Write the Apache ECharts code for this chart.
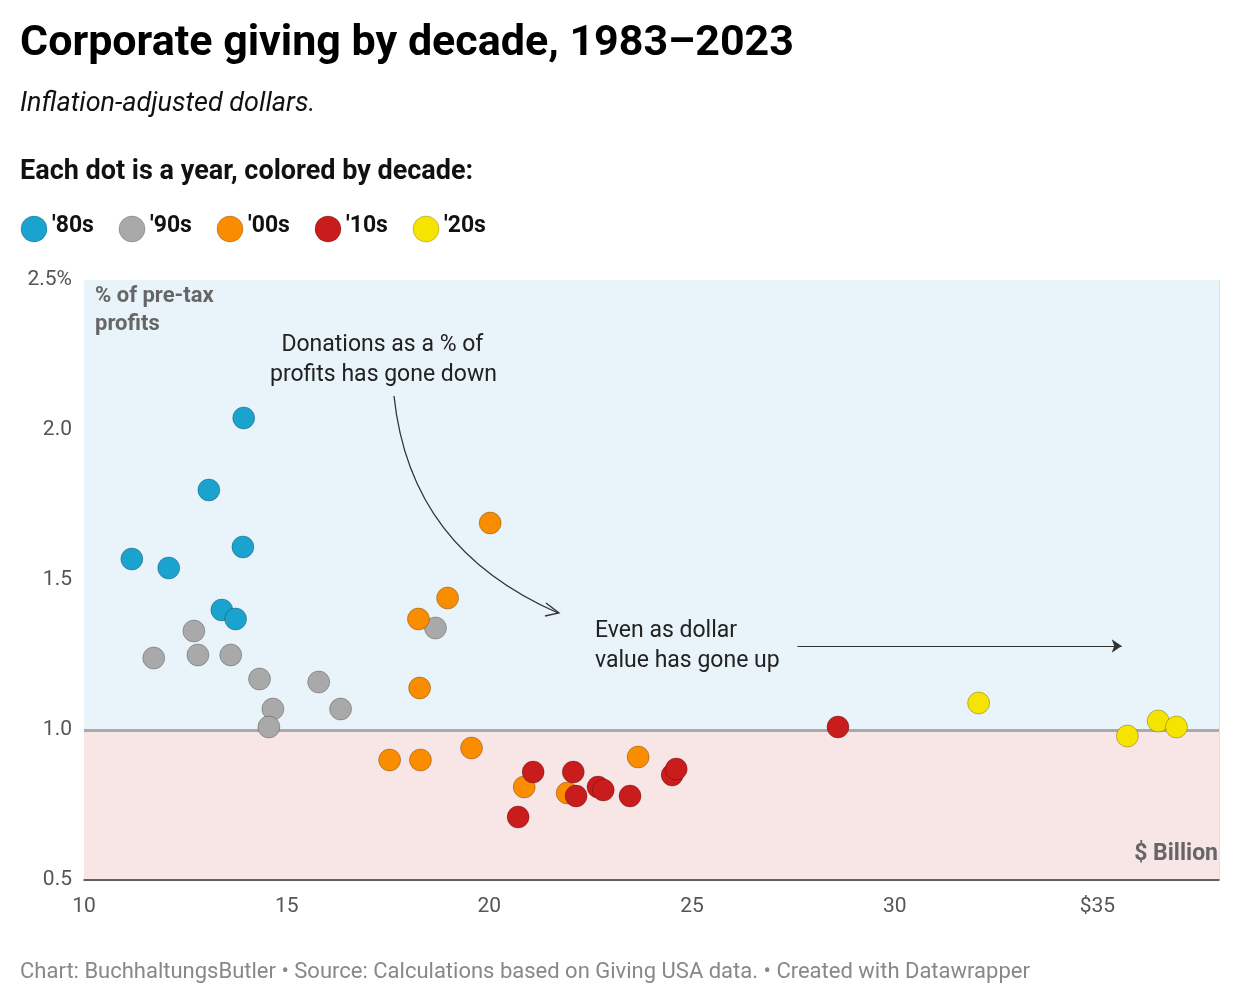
<!DOCTYPE html>
<html><head><meta charset="utf-8">
<script src="https://cdn.jsdelivr.net/npm/echarts@6/dist/echarts.min.js"></script>
<style>html,body{margin:0;padding:0;background:#fff}#c{width:1240px;height:1008px}</style>
</head><body><div id="c"></div>
<script>
const decades = ["'80s","'90s","'00s","'10s","'20s"];
const colors = ['#1aa3cf','#a9a9a9','#fa8c00','#c91c1c','#f5e400'];
const d80 = [[13.94,2.04],[13.08,1.80],[13.92,1.61],[11.18,1.57],[12.09,1.54],[13.40,1.40],[13.74,1.37]];
const d90 = [[12.71,1.33],[11.72,1.24],[12.81,1.25],[13.62,1.25],[14.33,1.17],[14.66,1.07],[14.56,1.01],[15.79,1.16],[16.33,1.07],[18.67,1.34]];
const d00 = [[20.02,1.69],[18.97,1.44],[18.25,1.37],[18.28,1.14],[19.56,0.94],[17.54,0.90],[18.30,0.90],[20.86,0.81],[21.92,0.79],[23.67,0.91]];
const d10 = [[20.71,0.71],[21.08,0.86],[22.07,0.86],[22.14,0.78],[22.68,0.81],[22.81,0.80],[23.47,0.78],[24.51,0.85],[24.61,0.87],[28.60,1.01]];
const d20 = [[32.07,1.09],[35.74,0.98],[36.50,1.03],[36.95,1.01]];
const xTicks = {10:'10',15:'15',20:'20',25:'25',30:'30',35:'$35'};
const yTicks = {'2.5':'2.5%','2':'2.0','1.5':'1.5','1':'1.0','0.5':'0.5'};
const all = [d80,d90,d00,d10,d20];
const F = 'Roboto';
const chart = echarts.init(document.getElementById('c'));
const series = all.map((d,i)=>({
  type:'scatter', name:decades[i], data:d, symbolSize:22, z:5,
  itemStyle:{color:colors[i], borderColor:'rgba(0,0,0,0.25)', borderWidth:1, opacity:1}
}));
series[0].markArea = {silent:true, z:0, data:[
  [{xAxis:10,yAxis:1},{xAxis:38,yAxis:2.5,itemStyle:{color:'#e8f4fa'}}],
  [{xAxis:10,yAxis:0.5},{xAxis:38,yAxis:1,itemStyle:{color:'#f8e6e6'}}]
]};
series[0].markLine = {silent:true, symbol:'none', z:1, label:{show:false},
  lineStyle:{color:'#aaa', width:3, type:'solid'}, data:[{yAxis:1}]};
series[1].markLine = {silent:true, symbol:['none','arrow'], symbolSize:10, label:{show:false},
  lineStyle:{color:'#333', width:1.2, type:'solid'}, data:[[{coord:[27.6,1.28]},{coord:[35.6,1.28]}]]};
chart.setOption({
  animation:false,
  textStyle:{fontFamily:F},
  grid:{left:84,right:21,top:280,bottom:128},
  xAxis:{type:'value',min:10,max:38,interval:5,
    axisLine:{show:true,lineStyle:{color:'#333',width:1.5}},axisTick:{show:false},
    splitLine:{show:true,lineStyle:{color:'#e0e0e0'}},
    axisLabel:{color:'#555',fontSize:21,fontFamily:F,margin:16,formatter:v=>xTicks[v]||''}},
  yAxis:{type:'value',min:0.5,max:2.5,interval:0.5,
    axisLine:{show:false},axisTick:{show:false},
    splitLine:{show:true,lineStyle:{color:'#e0e0e0'}},
    axisLabel:{color:'#555',fontSize:21,fontFamily:F,margin:12,formatter:v=>yTicks[String(v)]||''}},
  legend:{show:false},
  series:series,
  graphic:[
    {type:'text',left:20,top:23,style:{text:'Corporate giving by decade, 1983–2023',font:'bold 43px Roboto',fill:'#000'}},
    {type:'text',left:20,top:91,style:{text:'Inflation-adjusted dollars.',font:'italic 27px Roboto',fill:'#111'}},
    {type:'text',left:20,top:159,style:{text:'Each dot is a year, colored by decade:',font:'bold 27px Roboto',fill:'#111'}},
    ...decades.flatMap((d,i)=>{const xs=[34,132,230,328,426][i];return[
      {type:'circle',shape:{cx:xs,cy:229,r:13},style:{fill:colors[i],stroke:'rgba(0,0,0,0.2)'}},
      {type:'text',left:xs+18,top:215,style:{text:d,font:'bold 23px Roboto',fill:'#111'}}];}),
    {type:'text',left:95,top:282,z:10,style:{text:'% of pre-tax\nprofits',font:'bold 22px Roboto',fill:'#666',lineHeight:28}},
    {type:'text',right:22,top:843,z:10,style:{text:'$ Billion',font:'bold 23px Roboto',fill:'#666',align:'right'}},
    {type:'text',left:270,top:330,z:10,style:{text:'  Donations as a % of\nprofits has gone down',font:'23px Roboto',fill:'#222',lineHeight:30,backgroundColor:'rgba(232,244,250,0.9)'}},
    {type:'text',left:595,top:616,z:10,style:{text:'Even as dollar\nvalue has gone up',font:'23px Roboto',fill:'#222',lineHeight:30}},
    {type:'bezierCurve',z:10,shape:{x1:394,y1:396,cpx1:405,cpy1:500,cpx2:460,cpy2:570,x2:558,y2:613},style:{stroke:'#333',lineWidth:1.3,fill:'none'}},
    {type:'polyline',z:10,shape:{points:[[546,603],[559,613],[545,616]]},style:{stroke:'#333',lineWidth:1.3,fill:'none'}},
    {type:'text',left:20,top:961,style:{text:'Chart: BuchhaltungsButler • Source: Calculations based on Giving USA data. • Created with Datawrapper',font:'22px Roboto',fill:'#888'}}
  ]
});
</script></body></html>
